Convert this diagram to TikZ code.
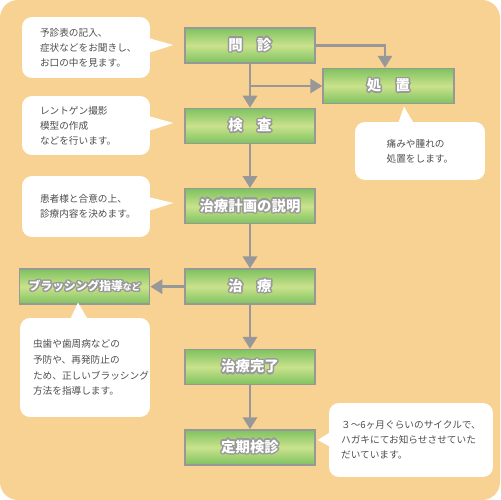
\documentclass[tikz,border=0pt]{standalone}
\usepackage{fontspec}
\setmainfont{Noto Sans CJK JP}
\usepackage[copies]{contour}
\usetikzlibrary{arrows.meta,positioning}
\definecolor{fundoLaranja}{RGB}{248,210,146}
\definecolor{verdeTopo}{RGB}{126,194,96}
\definecolor{verdeMeio}{RGB}{202,226,140}
\definecolor{bordaCinza}{RGB}{152,152,152}
\definecolor{textoCinza}{RGB}{78,78,78}
\contourlength{0.8pt}
\newcommand{\rotulo}[1]{\contour{bordaCinza}{#1}}
\tikzset{
  passo/.style={rectangle, draw=bordaCinza, line width=0.8pt,
                top color=verdeTopo, bottom color=verdeTopo, middle color=verdeMeio,
                minimum width=2.6cm, minimum height=0.7cm,
                font=\bfseries\fontsize{8.2}{9}\selectfont, text=white},
  nota/.style={rectangle, fill=white, rounded corners=0.2cm, align=left,
               font=\fontsize{5.5}{8.6}\selectfont, text=textoCinza},
  notaesq/.style={nota, text width=1.84cm, inner xsep=0.36cm, minimum width=2.56cm},
  seta/.style={-{Triangle[length=0.24cm,width=0.28cm]}, line width=1.7pt, bordaCinza},
}

\begin{document}
\begin{tikzpicture}[x=0.02cm, y=-0.02cm, node distance=0.88cm]
  % fundo
  \fill[fundoLaranja, rounded corners=0.36cm] (0,0) rectangle (500,500);
  \useasboundingbox (0,0) rectangle (500,500);

  % etapas
  \node[passo] (monshin) at (250,45.5) {\rotulo{問　診}};
  \node[passo, below=of monshin] (kensa) {\rotulo{検　査}};
  \node[passo, below=of kensa] (setsumei) {\rotulo{治療計画の説明}};
  \node[passo, below=of setsumei] (chiryo) {\rotulo{治　療}};
  \node[passo, below=of chiryo] (kanryo) {\rotulo{治療完了}};
  \node[passo, below=of kanryo] (teiki) {\rotulo{定期検診}};
  \node[passo, minimum width=2.62cm] (shochi) at (388.5,86) {\rotulo{処　置}};
  \node[passo, left=0.68cm of chiryo, font=\bfseries\fontsize{6.7}{8}\selectfont] (brush)
    {\rotulo{ブラッシング指導{\fontsize{5}{6}\selectfont など}}};

  % setas
  \draw[seta] (monshin) -- (kensa);
  \coordinate (ramo) at (monshin.south |- shochi.west);
  \draw[seta] (ramo) -- (shochi.west);
  \draw[seta] (monshin.east) -| ([xshift=-0.07cm]shochi.north);
  \draw[seta] (kensa) -- (setsumei);
  \draw[seta] (setsumei) -- (chiryo);
  \draw[seta] (chiryo) -- (brush);
  \draw[seta] (chiryo) -- (kanryo);
  \draw[seta] (kanryo) -- (teiki);

  % baloes
  \node[notaesq, minimum height=1.22cm] (n1) at (86,47.5)
    {予診表の記入、\\症状などをお聞きし、\\お口の中を見ます。};
  \fill[white] (n1.east) ++(-2,-9.5) -- ++(25,7) -- ++(-25,8) -- cycle;
  \node[notaesq, minimum height=1.18cm] (n2) at (86,125.5)
    {レントゲン撮影\\模型の作成\\などを行います。};
  \fill[white] (n2.east) ++(-2,-9.5) -- ++(25,7) -- ++(-25,8) -- cycle;
  \node[notaesq, minimum height=1.22cm] (n3) at (86,206.5)
    {患者様と合意の上、\\診療内容を決めます。};
  \fill[white] (n3.east) ++(-2,-9.5) -- ++(25,6) -- ++(-25,8) -- cycle;
  \node[nota, minimum width=2.6cm, minimum height=1.16cm] (n4) at (420,151)
    {痛みや腫れの\\処置をします。};
  \fill[white] (n4.north) ++(-22,2) -- ++(6,-17) -- ++(10,17) -- cycle;
  \node[nota, text width=2.08cm, inner xsep=0.26cm, minimum width=2.6cm,
        minimum height=1.98cm, font=\fontsize{5.5}{9}\selectfont] (n5) at (85,367.5)
    {虫歯や歯周病などの\\予防や、再発防止の\\ため、正しいブラッシング\\方法を指導します。};
  \fill[white] (n5.north) ++(-15,2) -- ++(8,-17) -- ++(10,17) -- cycle;
  \node[nota, minimum width=3.28cm, minimum height=1.48cm] (n6) at (411,440)
    {３～6ヶ月ぐらいのサイクルで、\\ハガキにてお知らせさせていた\\だいています。};
  \fill[white] (n6.west) ++(2,-8) -- ++(-13,8) -- ++(13,7) -- cycle;
\end{tikzpicture}
\end{document}
